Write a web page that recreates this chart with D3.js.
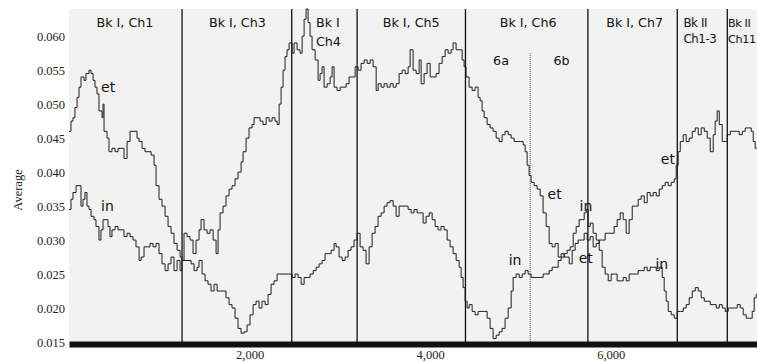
<!DOCTYPE html>
<html>
<head>
<meta charset="utf-8">
<script src="https://cdn.jsdelivr.net/npm/d3@7"></script>
<style>
  body { margin: 0; background: #fff; }
  .tick text { font-family: "Liberation Serif", "Times New Roman", serif; font-size: 12.5px; fill: #222; }
  .sec { font-family: "DejaVu Sans", sans-serif; fill: #111; }
</style>
</head>
<body>
<div id="vis"></div>
<script>
const visWidth = 757;
const visHeight = 362;

const margin = {top: 9, bottom: 20, left: 69, right: 0};

// running average, series "et" : [position, value]
const etData = [
  [0, .046], [22, .0475], [44, .048], [66, .0495], [89, .051], [111, .0525], [133, .054], [166, .0535],
  [188, .0545], [222, .055], [244, .0545], [266, .0535], [288, .0525], [310, .0515], [332, .049], [366, .048],
  [377, .050], [388, .046], [421, .045], [443, .043], [476, .0435], [510, .043], [543, .0435], [576, .0435],
  [609, .042], [643, .0445], [676, .046], [720, .046], [753, .045], [776, .0445], [809, .0435], [842, .043],
  [875, .043], [909, .0425], [942, .041], [964, .038], [997, .036], [1030, .035], [1064, .0335], [1097, .032],
  [1130, .031], [1163, .0295], [1197, .0285], [1230, .0275], [1252, .027], [1274, .031], [1307, .0305], [1341, .030],
  [1374, .028], [1407, .030], [1440, .0315], [1463, .033], [1496, .0315], [1529, .031], [1562, .0315], [1596, .030],
  [1629, .028], [1651, .0315], [1673, .034], [1706, .035], [1739, .0365], [1773, .0375], [1806, .038], [1839, .039],
  [1872, .040], [1906, .0415], [1928, .043], [1961, .045], [1994, .0465], [2028, .047], [2050, .048], [2083, .048],
  [2116, .0475], [2149, .047], [2183, .048], [2216, .0475], [2249, .048], [2282, .0475], [2305, .047], [2327, .050],
  [2349, .0525], [2371, .055], [2393, .057], [2415, .058], [2438, .059], [2471, .0575], [2493, .059], [2526, .058],
  [2559, .0575], [2582, .060], [2604, .0625], [2626, .064], [2648, .062], [2670, .060], [2692, .058], [2726, .0565],
  [2759, .0535], [2781, .0545], [2803, .0555], [2825, .0525], [2859, .053], [2892, .054], [2914, .0555], [2936, .0525],
  [2969, .052], [3003, .0525], [3036, .0525], [3069, .053], [3102, .054], [3136, .054], [3169, .0555], [3202, .055],
  [3235, .056], [3269, .0565], [3302, .056], [3335, .0565], [3368, .0555], [3402, .052], [3424, .053], [3457, .0525],
  [3490, .053], [3523, .0525], [3557, .053], [3590, .0525], [3623, .053], [3656, .0545], [3690, .055], [3723, .0545],
  [3756, .0555], [3778, .058], [3811, .055], [3845, .0545], [3878, .0565], [3900, .053], [3933, .0545], [3966, .056],
  [4000, .054], [4033, .054], [4066, .0545], [4099, .056], [4133, .057], [4166, .058], [4199, .0575], [4232, .058],
  [4254, .059], [4287, .058], [4321, .058], [4354, .0565], [4376, .0555], [4398, .054], [4431, .0525], [4465, .052],
  [4498, .0525], [4531, .051], [4553, .0505], [4575, .049], [4598, .048], [4631, .047], [4664, .0465], [4697, .046],
  [4731, .045], [4764, .0445], [4797, .0455], [4830, .046], [4864, .0455], [4897, .045], [4930, .0445], [4963, .0445],
  [4997, .0445], [5030, .044], [5052, .043], [5074, .041], [5096, .0395], [5118, .0385], [5152, .038], [5185, .0375],
  [5218, .0365], [5251, .034], [5285, .032], [5318, .0295], [5351, .029], [5384, .0295], [5418, .0275], [5451, .028],
  [5484, .0275], [5517, .0275], [5540, .0265], [5573, .0285], [5606, .0295], [5639, .030], [5672, .030], [5706, .031],
  [5739, .030], [5772, .0305], [5805, .029], [5839, .0295], [5872, .030], [5905, .030], [5938, .031], [5972, .031],
  [6005, .031], [6038, .032], [6071, .033], [6105, .034], [6138, .033], [6171, .031], [6204, .033], [6238, .035],
  [6271, .035], [6304, .036], [6337, .0365], [6371, .0355], [6404, .037], [6437, .0365], [6470, .037], [6504, .0365],
  [6537, .0375], [6570, .038], [6603, .0385], [6637, .038], [6670, .0385], [6703, .039], [6725, .041], [6747, .043],
  [6770, .0445], [6803, .0455], [6836, .0445], [6869, .045], [6903, .046], [6936, .0465], [6969, .0455], [7002, .0465],
  [7036, .046], [7069, .045], [7102, .043], [7135, .0455], [7157, .0475], [7179, .049], [7202, .047], [7235, .0445],
  [7268, .0445], [7290, .0455], [7324, .046], [7357, .046], [7390, .046], [7423, .0455], [7457, .046], [7490, .0465],
  [7523, .0465], [7556, .046], [7578, .0445], [7600, .0435], [7620, .0435]
];

// running average, series "in" : [position, value]
const inData = [
  [0, .0345], [22, .036], [44, .037], [78, .038], [111, .038], [133, .035], [155, .036], [177, .037],
  [199, .035], [222, .0345], [244, .0335], [277, .033], [299, .032], [332, .030], [354, .0315], [377, .033],
  [410, .033], [432, .032], [454, .0305], [476, .0315], [510, .032], [543, .0315], [576, .0315], [609, .0305],
  [643, .031], [676, .0305], [709, .030], [742, .029], [776, .027], [798, .0275], [831, .029], [864, .029],
  [897, .0295], [931, .029], [964, .0295], [997, .028], [1030, .0265], [1064, .0255], [1097, .0265], [1130, .0275],
  [1163, .0255], [1197, .027], [1230, .0255], [1252, .027], [1285, .027], [1318, .027], [1352, .0265], [1385, .0255],
  [1418, .026], [1440, .027], [1474, .025], [1507, .024], [1540, .0235], [1573, .0225], [1607, .0235], [1640, .0225],
  [1673, .0225], [1706, .0225], [1739, .0215], [1773, .0205], [1806, .020], [1839, .0185], [1872, .017], [1906, .0163],
  [1939, .0165], [1972, .0175], [2005, .019], [2039, .0205], [2072, .021], [2105, .020], [2138, .021], [2172, .0205],
  [2205, .022], [2238, .0235], [2271, .024], [2305, .025], [2338, .025], [2371, .025], [2404, .025], [2438, .025],
  [2471, .0245], [2504, .025], [2537, .0245], [2571, .0235], [2604, .0245], [2637, .0245], [2670, .025], [2704, .0255],
  [2737, .026], [2770, .0265], [2803, .027], [2836, .028], [2870, .028], [2903, .0285], [2936, .0295], [2958, .029],
  [2991, .0275], [3025, .027], [3058, .0275], [3091, .0285], [3124, .029], [3157, .030], [3191, .031], [3224, .029],
  [3257, .0285], [3290, .0265], [3324, .029], [3357, .031], [3390, .032], [3423, .0335], [3457, .034], [3490, .035],
  [3523, .0355], [3556, .0358], [3590, .035], [3623, .0335], [3656, .035], [3689, .035], [3723, .035], [3756, .0345],
  [3789, .034], [3822, .0345], [3856, .034], [3889, .034], [3922, .0325], [3955, .0335], [3989, .034], [4022, .033],
  [4055, .032], [4088, .0315], [4121, .032], [4155, .0315], [4188, .030], [4221, .029], [4254, .028], [4288, .027],
  [4321, .026], [4343, .0245], [4365, .023], [4387, .021], [4409, .020], [4432, .0205], [4465, .0195], [4498, .019],
  [4531, .0195], [4564, .0195], [4598, .0195], [4631, .0185], [4664, .017], [4697, .0155], [4731, .016], [4764, .0165],
  [4797, .017], [4830, .0185], [4864, .020], [4897, .0225], [4919, .0245], [4952, .025], [4986, .0245], [5019, .025],
  [5052, .0255], [5085, .025], [5118, .0245], [5152, .0245], [5185, .0245], [5218, .0245], [5251, .025], [5285, .025],
  [5318, .0255], [5351, .026], [5384, .026], [5418, .027], [5451, .0275], [5484, .028], [5517, .0285], [5551, .029],
  [5584, .031], [5617, .032], [5650, .033], [5683, .033], [5706, .034], [5728, .0345], [5750, .032], [5772, .0325],
  [5805, .031], [5839, .030], [5872, .0285], [5905, .026], [5938, .025], [5972, .024], [6005, .025], [6038, .025],
  [6071, .024], [6105, .024], [6138, .0245], [6171, .024], [6204, .025], [6238, .025], [6271, .025], [6304, .0255],
  [6337, .0255], [6371, .026], [6404, .0255], [6437, .026], [6470, .026], [6504, .0255], [6537, .026], [6570, .0245],
  [6592, .0225], [6614, .021], [6637, .0195], [6670, .019], [6703, .0185], [6736, .0195], [6770, .0195], [6803, .020],
  [6836, .0205], [6869, .0215], [6903, .0225], [6936, .023], [6969, .0225], [7002, .0215], [7036, .021], [7069, .021],
  [7102, .0205], [7135, .0205], [7168, .020], [7202, .0205], [7235, .020], [7268, .0195], [7301, .020], [7334, .020],
  [7368, .020], [7401, .0205], [7434, .020], [7467, .019], [7500, .0185], [7534, .0185], [7567, .0195], [7589, .0215],
  [7611, .022], [7620, .022]
];

// section boundaries (solid) and the 6a / 6b split (dotted)
const boundaries = [1252, 2467, 3191, 4391, 5747, 6737, 7291];
const subBoundary = 5108;

const yTicks = [0.015, 0.020, 0.025, 0.030, 0.035, 0.040, 0.045, 0.050, 0.055, 0.060];
const xTicks = [2000, 4000, 6000];

// section headings
const sections = [
  {pos: 620, lines: ['Bk I, Ch1'], anchor: 'middle', size: 12.7},
  {pos: 1865, lines: ['Bk I, Ch3'], anchor: 'middle', size: 12.7},
  {pos: 2735, lines: ['Bk I', 'Ch4'], anchor: 'start', size: 12.7},
  {pos: 3790, lines: ['Bk I, Ch5'], anchor: 'middle', size: 12.7},
  {pos: 5085, lines: ['Bk I, Ch6'], anchor: 'middle', size: 12.7},
  {pos: 6265, lines: ['Bk I, Ch7'], anchor: 'middle', size: 12.7},
  {pos: 6805, lines: ['Bk II', 'Ch1-3'], anchor: 'start', size: 11.8},
  {pos: 7300, lines: ['Bk II', 'Ch11'], anchor: 'start', size: 11.2}
];
const subLabels = [{pos: 4785, text: '6a'}, {pos: 5455, text: '6b'}];

// inline series tags: [position, value at baseline, text]
const seriesTags = [
  [355, .0518, 'et'], [355, .0343, 'in'],
  [4870, .0264, 'in'], [5300, .0361, 'et'],
  [5655, .0343, 'in'], [5645, .0266, 'et'],
  [6495, .0258, 'in'], [6555, .0412, 'et']
];

const svg = d3.select('#vis').append('svg')
    .attr('width', visWidth)
    .attr('height', visHeight);

const x = d3.scaleLinear()
    .domain([0, 7620])
    .range([margin.left, visWidth - margin.right]);

const y = d3.scaleLinear()
    .domain([0.015, 0.064])
    .range([visHeight - margin.bottom, margin.top]);

svg.append('rect')
    .attr('x', x(0))
    .attr('y', y(0.064))
    .attr('width', x(7620) - x(0))
    .attr('height', y(0.015) - y(0.064))
    .attr('fill', '#f2f2f2');

svg.selectAll('.bound')
  .data(boundaries)
  .join('line')
    .attr('class', 'bound')
    .attr('x1', d => x(d))
    .attr('x2', d => x(d))
    .attr('y1', y(0.064))
    .attr('y2', y(0.015))
    .attr('stroke', '#111')
    .attr('stroke-width', 1.3);

svg.append('line')
    .attr('x1', x(subBoundary))
    .attr('x2', x(subBoundary))
    .attr('y1', y(0.0575))
    .attr('y2', y(0.015))
    .attr('stroke', '#444')
    .attr('stroke-width', 1)
    .attr('stroke-dasharray', '1,1');

const line = d3.line()
    .curve(d3.curveStepAfter)
    .x(d => x(d[0]))
    .y(d => y(d[1]));

[etData, inData].forEach(data => {
  svg.append('path')
      .datum(data)
      .attr('d', line)
      .attr('fill', 'none')
      .attr('stroke', '#1e1e1e')
      .attr('stroke-width', 1);
});

// y axis
svg.append('g')
    .attr('transform', `translate(${margin.left}, 0)`)
    .call(d3.axisLeft(y).tickValues(yTicks).tickFormat(d3.format('.3f')).tickSize(0).tickPadding(4))
    .call(g => g.select('.domain').remove());

// x axis: thick bar along the bottom
svg.append('g')
    .attr('transform', `translate(0, ${y(0.015) + 2})`)
    .call(d3.axisBottom(x).tickValues(xTicks).tickFormat(d3.format(',')).tickSize(0).tickPadding(6).tickSizeOuter(0))
    .call(g => g.select('.domain').attr('stroke', '#111').attr('stroke-width', 6));

svg.append('text')
    .attr('transform', `translate(22, 190) rotate(-90)`)
    .attr('text-anchor', 'middle')
    .attr('font-family', '"Liberation Serif", serif')
    .attr('font-size', 12.5)
    .attr('fill', '#222')
    .text('Average');

// section headings
const heads = svg.selectAll('.sec')
  .data(sections)
  .join('text')
    .attr('class', 'sec')
    .attr('x', d => x(d.pos))
    .attr('y', 27)
    .attr('text-anchor', d => d.anchor)
    .attr('font-size', d => d.size);

heads.selectAll('tspan')
  .data(d => d.lines.map((t, i) => ({t, i, pos: d.pos, size: d.size})))
  .join('tspan')
    .attr('x', d => x(d.pos))
    .attr('dy', d => d.i === 0 ? 0 : (d.size < 12 ? 16 : 18.5))
    .attr('letter-spacing', d => d.size < 12 ? -0.4 : 0)
    .text(d => d.t);

svg.selectAll('.sub')
  .data(subLabels)
  .join('text')
    .attr('class', 'sec sub')
    .attr('x', d => x(d.pos))
    .attr('y', 65)
    .attr('text-anchor', 'middle')
    .attr('font-size', 12.7)
    .text(d => d.text);

svg.selectAll('.tag')
  .data(seriesTags)
  .join('text')
    .attr('class', 'sec tag')
    .attr('x', d => x(d[0]))
    .attr('y', d => y(d[1]))
    .attr('font-size', 14)
    .text(d => d[2]);
</script>
</body>
</html>
